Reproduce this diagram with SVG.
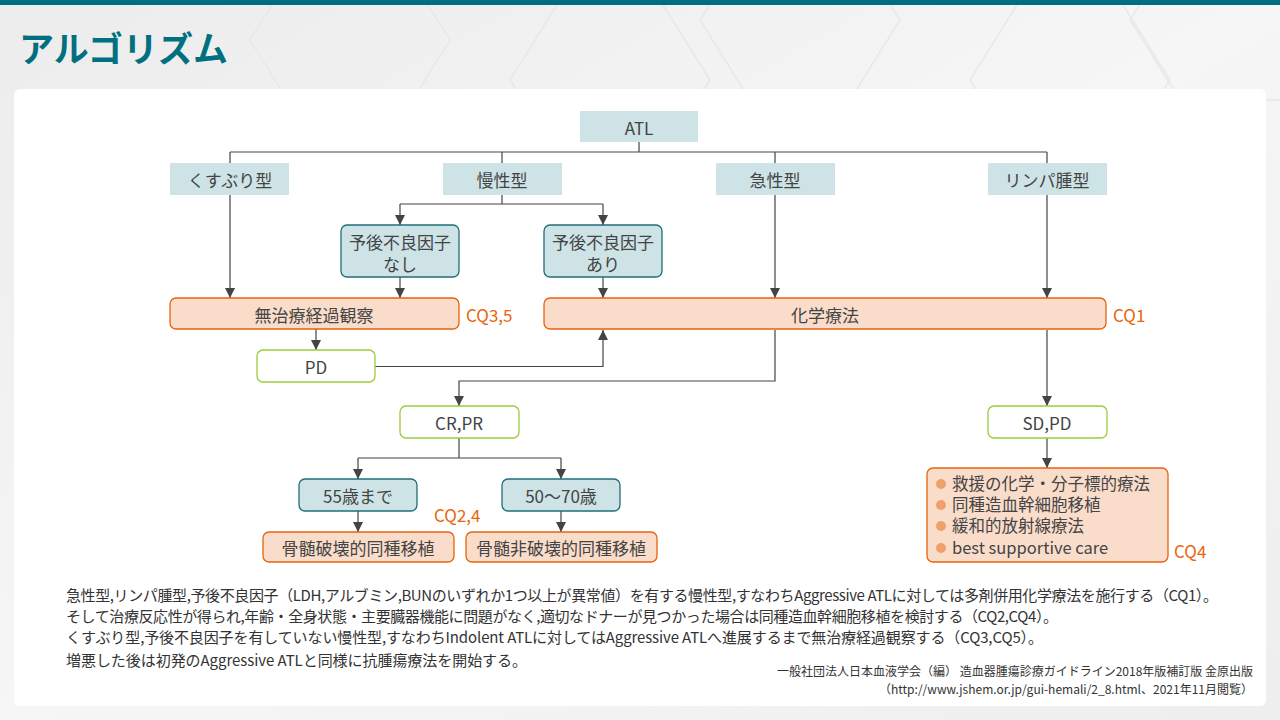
<svg xmlns="http://www.w3.org/2000/svg" width="1280" height="720" viewBox="0 0 1280 720">
<defs>
<linearGradient id="bg" x1="0" y1="0" x2="1" y2="1">
<stop offset="0" stop-color="#ececec"/>
<stop offset="0.5" stop-color="#f6f6f6"/>
<stop offset="1" stop-color="#eeeeee"/>
</linearGradient>
<marker id="arr" markerUnits="userSpaceOnUse" markerWidth="10" markerHeight="10" refX="10" refY="5" orient="auto">
<path d="M0,0 L10,5 L0,10 z" fill="#444"/>
</marker>
<style>
.t{font-family:"Noto Sans CJK JP","Noto Sans",sans-serif;fill:#444;}
.n{font-size:17px;text-anchor:middle;dominant-baseline:central;}
.cat{fill:#cde3e6;}
.tl{fill:#cde3e6;stroke:#1f6f7a;stroke-width:1.3;}
.or{fill:#fadcca;stroke:#e8620f;stroke-width:1.3;}
.gr{fill:#ffffff;stroke:#9ccc3c;stroke-width:1.3;}
.cq{font-family:"Noto Sans CJK JP","Noto Sans",sans-serif;fill:#e8650a;font-size:17px;dominant-baseline:central;}
.c{fill:none;stroke:#444;stroke-width:1.2;}
.hex{fill:none;stroke:#e8e8e8;stroke-width:1.5;}
.li{font-size:16.5px;}
.body{font-family:"Noto Sans CJK JP","Noto Sans",sans-serif;fill:#333;font-size:15px;}
.cit{font-family:"Noto Sans CJK JP","Noto Sans",sans-serif;fill:#333;font-size:12px;text-anchor:end;}
</style>
</defs>
<rect x="0" y="0" width="1280" height="720" fill="url(#bg)"/>
<g id="bg-hex">
<polygon class="hex" points="300,-40 400,-40 450,40 400,120 300,120 250,40"/>
<polygon class="hex" points="560,0 660,0 710,80 660,160 560,160 510,80"/>
<polygon class="hex" points="750,-60 850,-60 900,20 850,100 750,100 700,20"/>
<polygon class="hex" points="1020,0 1120,0 1170,80 1120,160 1020,160 970,80"/>
<polygon class="hex" points="1180,-60 1280,-60 1330,20 1280,100 1180,100 1130,20"/>
</g>
<rect x="0" y="0" width="1280" height="5" fill="#006e7f"/>
<text x="19" y="62" font-family="'Noto Sans CJK JP','Noto Sans',sans-serif" font-weight="bold" font-size="35" fill="#007080">アルゴリズム</text>
<rect x="14" y="89" width="1252" height="617" rx="6" fill="#ffffff"/>

<g id="connectors">
<path class="c" d="M639,142 V152 M230,152 H1047 M230,152 V163 M502,152 V163 M775,152 V163 M1047,152 V163"/>
<path class="c" d="M230,195 V298" marker-end="url(#arr)"/>
<path class="c" d="M502,194 V204 M400,204 H603"/>
<path class="c" d="M400,204 V225" marker-end="url(#arr)"/>
<path class="c" d="M603,204 V225" marker-end="url(#arr)"/>
<path class="c" d="M775,194 V298" marker-end="url(#arr)"/>
<path class="c" d="M1047,194 V298" marker-end="url(#arr)"/>
<path class="c" d="M400,277 V298" marker-end="url(#arr)"/>
<path class="c" d="M603,277 V298" marker-end="url(#arr)"/>
<path class="c" d="M316,329 V350" marker-end="url(#arr)"/>
<path class="c" d="M375,366.5 H603 V330" marker-end="url(#arr)"/>
<path class="c" d="M775,330 V381 H459 V406" marker-end="url(#arr)"/>
<path class="c" d="M1047,330 V406" marker-end="url(#arr)"/>
<path class="c" d="M459,438 V458 M358,458 H561"/>
<path class="c" d="M358,458 V479" marker-end="url(#arr)"/>
<path class="c" d="M561,458 V479" marker-end="url(#arr)"/>
<path class="c" d="M358,511 V532" marker-end="url(#arr)"/>
<path class="c" d="M561,511 V532" marker-end="url(#arr)"/>
<path class="c" d="M1047,438 V468" marker-end="url(#arr)"/>
</g>

<g id="atl"><rect class="cat" x="580" y="111" width="118" height="31"/><text class="t n" x="639" y="127">ATL</text></g>
<g id="kusuburi"><rect class="cat" x="170" y="163" width="119" height="32"/><text class="t n" x="230" y="179">くすぶり型</text></g>
<g id="mansei"><rect class="cat" x="443" y="163" width="119" height="32"/><text class="t n" x="502" y="179">慢性型</text></g>
<g id="kyusei"><rect class="cat" x="716" y="163" width="119" height="32"/><text class="t n" x="775" y="179">急性型</text></g>
<g id="lymph"><rect class="cat" x="988" y="163" width="119" height="32"/><text class="t n" x="1047" y="179">リンパ腫型</text></g>

<g id="nashi"><rect class="tl" x="341" y="225" width="118" height="52" rx="6"/><text class="t n" x="400" y="241">予後不良因子</text><text class="t n" x="400" y="263">なし</text></g>
<g id="ari"><rect class="tl" x="544" y="225" width="118" height="52" rx="6"/><text class="t n" x="603" y="241">予後不良因子</text><text class="t n" x="603" y="263">あり</text></g>

<g id="muchiryo"><rect class="or" x="170" y="298" width="289" height="31" rx="6"/><text class="t n" x="314" y="314">無治療経過観察</text><text class="cq" x="466" y="314">CQ3,5</text></g>
<g id="kagaku"><rect class="or" x="544" y="298" width="562" height="31" rx="6"/><text class="t n" x="825" y="314">化学療法</text><text class="cq" x="1113" y="314">CQ1</text></g>

<g id="pd"><rect class="gr" x="257" y="350" width="118" height="32" rx="6"/><text class="t n" x="316" y="366">PD</text></g>
<g id="crpr"><rect class="gr" x="400" y="406" width="119" height="32" rx="6"/><text class="t n" x="459" y="422">CR,PR</text></g>
<g id="sdpd"><rect class="gr" x="988" y="406" width="119" height="32" rx="6"/><text class="t n" x="1047" y="422">SD,PD</text></g>

<g id="age55"><rect class="tl" x="299" y="479" width="118" height="32" rx="6"/><text class="t n" x="358" y="495">55歳まで</text></g>
<g id="age5070"><rect class="tl" x="502" y="479" width="118" height="32" rx="6"/><text class="t n" x="561" y="495">50〜70歳</text></g>
<text class="cq" x="434" y="514">CQ2,4</text>

<g id="myeloablative"><rect class="or" x="263" y="532" width="191" height="30" rx="6"/><text class="t n" x="358" y="547">骨髄破壊的同種移植</text></g>
<g id="nonmyeloablative"><rect class="or" x="466" y="532" width="191" height="30" rx="6"/><text class="t n" x="561" y="547">骨髄非破壊的同種移植</text></g>

<g id="options">
<rect class="or" x="927" y="468" width="241" height="94" rx="6"/>
<circle cx="941" cy="484" r="5" fill="#f0a06a"/>
<circle cx="941" cy="505" r="5" fill="#f0a06a"/>
<circle cx="941" cy="526" r="5" fill="#f0a06a"/>
<circle cx="941" cy="548" r="5" fill="#f0a06a"/>
<text class="t li" x="952" y="490">救援の化学・分子標的療法</text>
<text class="t li" x="952" y="511">同種造血幹細胞移植</text>
<text class="t li" x="952" y="532">緩和的放射線療法</text>
<text class="t li" x="952" y="554">best supportive care</text>
<text class="cq" x="1174" y="550">CQ4</text>
</g>

<g id="notes">
<text class="body" x="66" y="601" textLength="1152" lengthAdjust="spacing">急性型,リンパ腫型,予後不良因子（LDH,アルブミン,BUNのいずれか1つ以上が異常値）を有する慢性型,すなわちAggressive ATLに対しては多剤併用化学療法を施行する（CQ1）。</text>
<text class="body" x="66" y="622" textLength="992" lengthAdjust="spacing">そして治療反応性が得られ,年齢・全身状態・主要臓器機能に問題がなく,適切なドナーが見つかった場合は同種造血幹細胞移植を検討する（CQ2,CQ4）。</text>
<text class="body" x="66" y="643" textLength="977" lengthAdjust="spacing">くすぶり型,予後不良因子を有していない慢性型,すなわちIndolent ATLに対してはAggressive ATLへ進展するまで無治療経過観察する（CQ3,CQ5）。</text>
<text class="body" x="66" y="666" textLength="461" lengthAdjust="spacing">増悪した後は初発のAggressive ATLと同様に抗腫瘍療法を開始する。</text>
<text class="cit" x="1253" y="676">一般社団法人日本血液学会（編） 造血器腫瘍診療ガイドライン2018年版補訂版 金原出版</text>
<text class="cit" x="1253" y="694">（http://www.jshem.or.jp/gui-hemali/2_8.html、2021年11月閲覧）</text>
</g>
</svg>
